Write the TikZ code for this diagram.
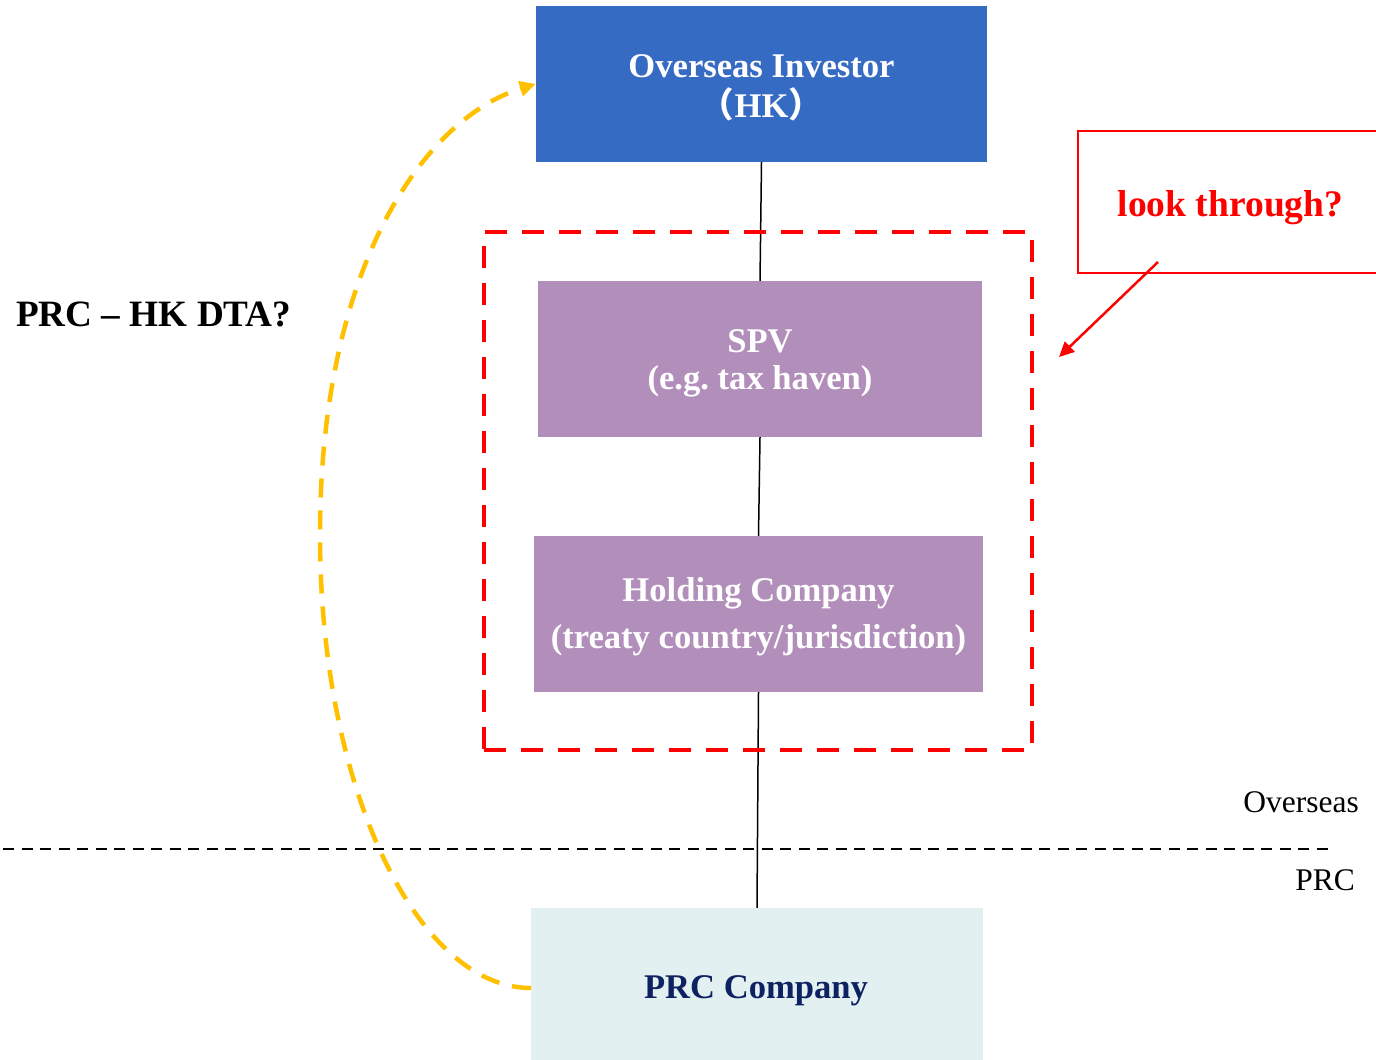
\documentclass[tikz,border=0pt]{standalone}
\usepackage{fontspec}
\setmainfont{Liberation Serif}
\newfontfamily\cjkfont{Noto Sans CJK SC}
\usetikzlibrary{arrows.meta}
\frenchspacing

\definecolor{invblue}{RGB}{54,107,196}
\definecolor{entpurple}{RGB}{178,143,187}
\definecolor{prcfill}{RGB}{226,240,242}
\definecolor{prcnavy}{RGB}{14,33,96}
\definecolor{dtagold}{RGB}{255,192,0}
\definecolor{flagred}{RGB}{255,0,0}

\begin{document}
\begin{tikzpicture}[x=1pt,y=-1pt,
  entity/.style={rectangle, inner sep=0pt, draw=none},
  boxtext/.style={inner sep=0pt, anchor=base, text=white,
    font=\bfseries\fontsize{34.6}{40}\selectfont},
  sidetext/.style={inner sep=0pt, anchor=base east,
    font=\fontsize{31.5}{36}\selectfont},
  ownership/.style={draw=black, line width=1.5pt},
  groupframe/.style={draw=flagred, line width=4.5pt, dash pattern=on 22pt off 15pt,
    rectangle, inner sep=0pt},
  treatyarc/.style={draw=dtagold, line width=4.5pt, dash pattern=on 19pt off 13pt,
    -{Triangle[length=16pt,width=15pt]}},
  pointer/.style={draw=flagred, line width=2.5pt,
    -{Triangle[length=15pt,width=14pt]}},
  borderline/.style={draw=black, line width=2pt, dash pattern=on 11pt off 7.5pt}
]
\useasboundingbox[fill=white] (0,0) rectangle (1376,1060);

% ownership chain
\node[entity, fill=invblue, minimum width=451pt, minimum height=156pt] (inv) at (761.5,84) {};
\node[boxtext] (inv-name) at (761.5,77) {Overseas Investor};
\node[boxtext] (inv-place) at (761.5,117) {{\cjkfont （}HK{\cjkfont ）}};

\node[entity, fill=entpurple, minimum width=444pt, minimum height=156pt] (spv) at (760,359) {};
\node[boxtext] (spv-name) at (760,352) {SPV};
\node[boxtext] (spv-note) at (760,389) {(e.g. tax haven)};

\node[entity, fill=entpurple, minimum width=449pt, minimum height=156pt] (hold) at (758.5,614) {};
\node[boxtext] (hold-name) at (758.5,601) {Holding Company};
\node[boxtext] (hold-note) at (758.5,648) {(treaty country/jurisdiction)};

\node[entity, fill=prcfill, minimum width=452pt, minimum height=160pt] (prc) at (757,988) {};
\node[boxtext, text=prcnavy] (prc-name) at (756,998) {PRC Company};

% overseas / PRC border
\coordinate (border-w) at (3,849);
\coordinate (border-e) at (1335,849);
\draw[borderline] (border-w) -- (border-e);
\node[sidetext] (side-overseas) at (1359,812) {Overseas};
\node[sidetext] (side-prc) at (1355,890) {PRC};

% shareholding links
\draw[ownership] (inv.south) -- (spv.north);
\draw[ownership] (spv.south) -- (hold.north);
\draw[ownership] (hold.south) -- (prc.north);

% intermediate entities that may be looked through
\node[groupframe, minimum width=548pt, minimum height=518pt] (group) at (758,491) {};

\node[rectangle, draw=flagred, line width=2pt, minimum width=304pt, minimum height=142pt,
  inner sep=0pt] (look) at (1230,202) {};
\node[inner sep=0pt, anchor=base, text=flagred, font=\bfseries\fontsize{37.5}{42}\selectfont]
  (look-text) at (1230.5,216) {look through?};
\coordinate (look-tail) at (1158,262);
\coordinate (look-tip) at (1059,357);
\draw[pointer] (look-tail) -- (look-tip);

% treaty question
\node[inner sep=0pt, anchor=base west, font=\bfseries\fontsize{37.2}{40}\selectfont]
  (dta) at (16,326.5) {PRC – HK DTA?};
\coordinate (dta-turn) at (320,535);
\draw[treatyarc] (prc.west) .. controls (418,988) and (320,790) .. (dta-turn)
  .. controls (320,265) and (425,118) .. (inv.west);
\end{tikzpicture}
\end{document}
